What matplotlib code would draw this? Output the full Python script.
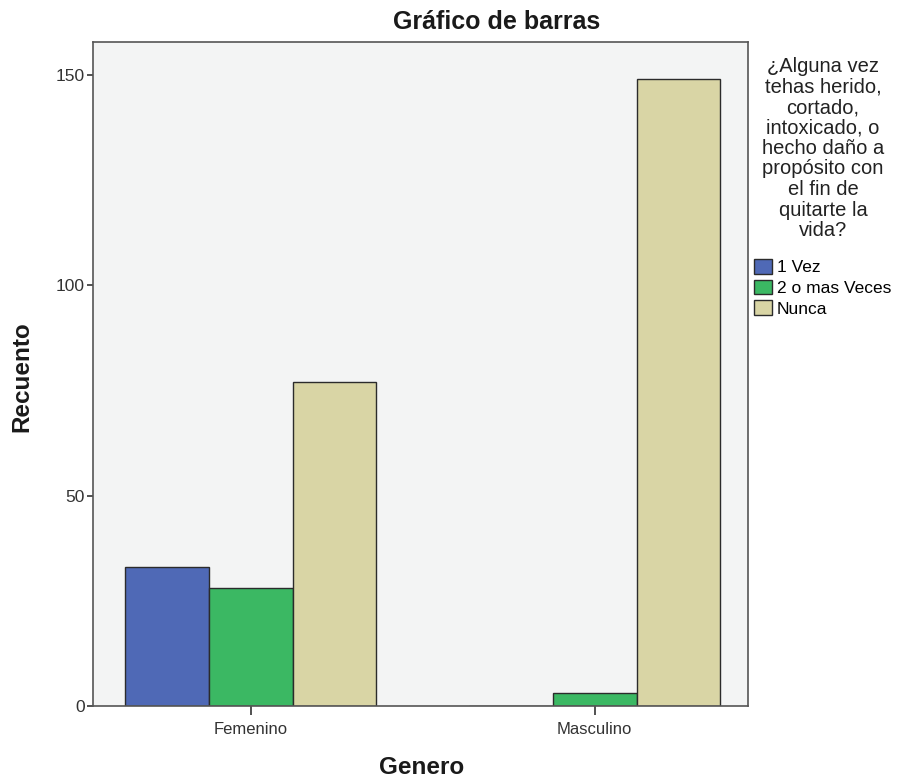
import matplotlib
matplotlib.use("Agg")
import matplotlib.pyplot as plt
import numpy as np
from matplotlib.patches import Patch

plt.rcParams['font.family'] = ['Liberation Sans', 'DejaVu Sans']

categories = ["Femenino", "Masculino"]
series_names = ["1 Vez", "2 o mas Veces", "Nunca"]
vals_1vez = [33, 0]
vals_2mas = [28, 3]
vals_nunca = [77, 149]
colors = ["#4f69b6", "#3bb863", "#d9d5a5"]
yticks = [0, 50, 100, 150]

W, H = 898, 780
fig = plt.figure(figsize=(W / 100, H / 100), dpi=100)
ax = fig.add_axes([93 / W, 1 - 706 / H, (748 - 93) / W, (706 - 42) / H])
ax.set_facecolor("#f3f4f4")

x = np.arange(len(categories))
w = 0.244
for i, (vals, c) in enumerate(zip([vals_1vez, vals_2mas, vals_nunca], colors)):
    ax.bar(x + (i - 1) * w, vals, width=w, color=c, edgecolor="#2b2b2b", linewidth=1.0)

ax.set_xlim(-0.458, 1.446)
ax.set_ylim(0, 157.8)
ax.set_xticks(x)
ax.set_xticklabels(categories, fontsize=12, color="#333333")
ax.set_yticks(yticks)
ax.set_yticklabels([str(t) for t in yticks], fontsize=12.5, color="#333333")
ax.tick_params(axis="y", direction="out", length=4.5, width=1.2, color="#333333", pad=1.5)
ax.tick_params(axis="x", direction="out", length=6.5, width=1.2, color="#333333", pad=5)
for s in ax.spines.values():
    s.set_color("#555555")
    s.set_linewidth(1.2)

fig.text(497 / W, 1 - 22 / H, "Gráfico de barras", ha="center", va="center",
         fontsize=18, fontweight="bold", color="#1a1a1a")
fig.text(22 / W, 1 - 377 / H, "Recuento", ha="center", va="center", rotation=90,
         fontsize=17.5, fontweight="bold", color="#1a1a1a")
fig.text(422 / W, 1 - 768 / H, "Genero", ha="center", va="center",
         fontsize=17.5, fontweight="bold", color="#1a1a1a")

legend_title = ("¿Alguna vez\ntehas herido,\ncortado,\nintoxicado, o\nhecho daño a\n"
                "propósito con\nel fin de\nquitarte la\nvida?")
fig.text(823 / W, 1 - 57 / H, legend_title, ha="center", va="top", fontsize=14.5,
         linespacing=1.1, color="#222222")
handles = [Patch(facecolor=c, edgecolor="#2b2b2b", label=n) for c, n in zip(colors, series_names)]
fig.legend(handles=handles, loc="upper left", bbox_to_anchor=(754 / W, 1 - 259 / H),
           frameon=False, fontsize=12.5, handlelength=1.03, handleheight=0.92,
           handletextpad=0.3, labelspacing=0.25, borderaxespad=0, borderpad=0)

fig.savefig("out.png", dpi=100)
